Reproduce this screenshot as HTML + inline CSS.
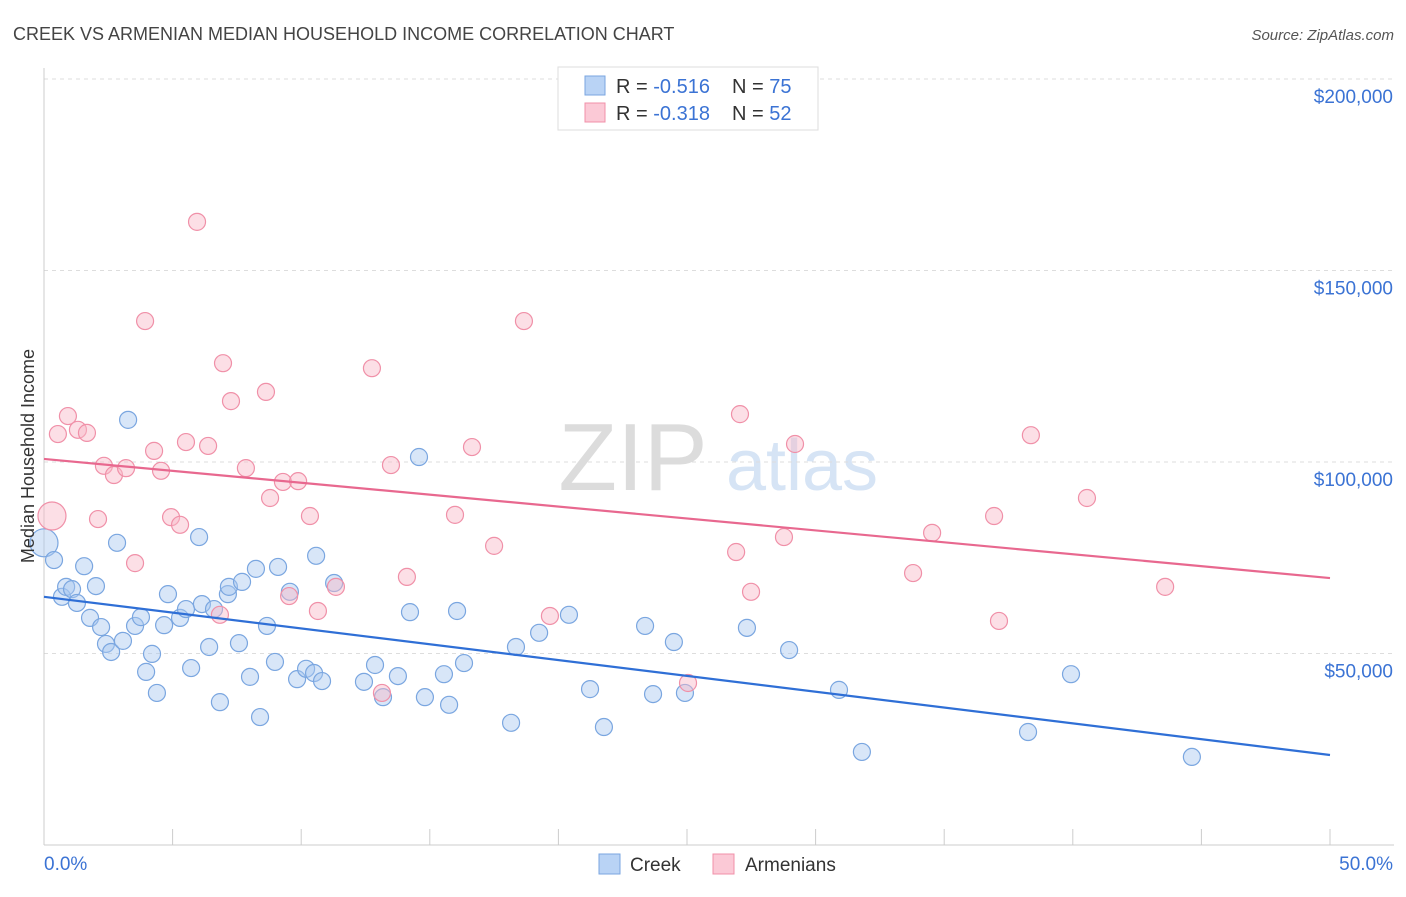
<!DOCTYPE html>
<html><head><meta charset="utf-8"><style>
body{margin:0;background:#fff;font-family:"Liberation Sans",sans-serif;}
svg text{font-family:"Liberation Sans",sans-serif;}
</style></head><body>
<svg width="1406" height="892" viewBox="0 0 1406 892" xmlns="http://www.w3.org/2000/svg" id="svg">
<text x="13" y="40" font-size="18" fill="#444">CREEK VS ARMENIAN MEDIAN HOUSEHOLD INCOME CORRELATION CHART</text>
<text x="1394" y="40" font-size="15" fill="#555" font-style="italic" text-anchor="end">Source: ZipAtlas.com</text>
<g>
<text x="633" y="490" font-size="96" fill="#dcdcdc" font-family="Liberation Serif,serif" text-anchor="middle">ZIP</text>
<text x="802" y="490" font-size="72" fill="#d6e4f5" text-anchor="middle">atlas</text>
</g>
<g id="grid"></g>
<g id="axes"></g>
<g id="marks"></g>
<text transform="translate(34,456) rotate(-90)" font-size="18" fill="#333" text-anchor="middle">Median Household Income</text>
<g>
<rect x="558" y="67" width="260" height="63" fill="#fff" stroke="#ddd"/>
<rect x="585" y="76" width="20" height="19" fill="#b9d3f5" stroke="#7aa6e0"/>
<rect x="585" y="103" width="20" height="19" fill="#fbc9d6" stroke="#f090a8"/>
<text x="616" y="93" font-size="20" fill="#333">R = <tspan fill="#3b73d4">-0.516</tspan></text>
<text x="732" y="93" font-size="20" fill="#333">N = <tspan fill="#3b73d4">75</tspan></text>
<text x="616" y="120" font-size="20" fill="#333">R = <tspan fill="#3b73d4">-0.318</tspan></text>
<text x="732" y="120" font-size="20" fill="#333">N = <tspan fill="#3b73d4">52</tspan></text>
</g>
<g>
<rect x="599" y="854" width="21" height="20" fill="#b9d3f5" stroke="#7aa6e0"/>
<text x="630" y="871" font-size="19" fill="#333">Creek</text>
<rect x="713" y="854" width="21" height="20" fill="#fbc9d6" stroke="#f090a8"/>
<text x="745" y="871" font-size="19" fill="#333">Armenians</text>
</g>
</svg>
<script>
const creekX=[0,0.39,0.70,0.86,1.09,1.28,1.56,1.79,2.02,2.22,2.41,2.61,2.84,3.07,3.27,3.54,3.77,3.97,4.20,4.39,4.67,4.82,5.29,5.52,5.72,6.03,6.14,6.42,6.61,6.84,7.15,7.19,7.58,7.70,8.01,8.24,8.40,8.67,8.98,9.10,9.56,9.84,10.19,10.50,10.58,10.81,11.28,12.44,12.87,13.18,13.76,14.23,14.58,14.81,15.55,15.75,16.06,16.33,18.16,18.35,19.25,20.41,21.23,21.77,23.37,23.68,24.49,24.92,27.33,28.97,30.91,31.80,38.26,39.93,44.63];
const creekY=[78.9,74.4,64.8,67.4,66.8,63.2,72.8,59.3,67.6,56.9,52.5,50.4,78.9,53.3,111,57.2,59.5,45.2,49.9,39.7,57.4,65.5,59.3,61.6,46.2,80.4,62.9,51.7,61.6,37.3,65.5,67.4,52.7,68.7,43.9,72.1,33.4,57.2,47.8,72.6,66.1,43.3,46.0,44.9,75.5,42.8,68.4,42.6,47.0,38.6,44.1,60.8,101.3,38.6,44.6,36.6,61.1,47.5,31.9,51.7,55.4,60.1,40.7,30.8,57.2,39.4,53.0,39.7,56.7,50.9,40.5,24.3,29.5,44.6,23.0];
const armX=[0.31,0.54,0.93,1.32,1.67,2.10,2.33,2.72,3.19,3.54,3.93,4.28,4.55,4.94,5.29,5.52,5.95,6.38,6.84,6.96,7.27,7.85,8.63,8.79,9.29,9.53,9.88,10.34,10.65,11.35,12.75,13.14,13.49,14.11,15.98,16.64,17.50,18.66,19.67,25.04,26.91,27.06,27.49,28.77,29.20,33.79,34.53,36.94,37.13,38.37,40.55,43.59];
const armY=[85.9,107.3,112.0,108.4,107.6,85.1,99.0,96.6,98.4,73.6,136.8,102.9,97.7,85.6,83.6,105.2,162.7,104.2,60.1,125.8,115.9,98.4,118.3,90.6,94.8,65.0,95.0,85.9,61.1,67.4,124.5,39.7,99.2,70.0,86.2,103.9,78.1,136.8,59.8,42.3,76.5,112.5,66.1,80.4,104.7,71.0,81.5,85.9,58.5,107.0,90.6,67.4];
const creekTrend=[64.8,23.5];
const armTrend=[100.8,69.7];
const yTicks=[50,100,150,200];
const yTickLabels=["$50,000","$100,000","$150,000","$200,000"];
const xTickVals=[0,5,10,15,20,25,30,35,40,45,50];
const xLabels=["0.0%","50.0%"];
const NS="http://www.w3.org/2000/svg";
const X=v=>44+v/50*1286;
const Y=v=>845-v/50*191.5;
function mk(p,t,a){const e=document.createElementNS(NS,t);for(const k in a)e.setAttribute(k,a[k]);document.getElementById(p).appendChild(e);return e;}
yTicks.forEach((t,i)=>{
 const l=mk('grid','line',{x1:44,x2:1394,y1:Y(t),y2:Y(t),stroke:'#ddd','stroke-dasharray':'4,4'});
 
 
 const tx=mk('grid','text',{x:1393,y:Y(t)+24,'font-size':19,fill:'#3b73d4','text-anchor':'end'});
 tx.textContent=yTickLabels[i];
 
 
});
const ax=mk('axes','line',{x1:44,x2:1394,y1:845,y2:845,stroke:'#ccc'});


const ay=mk('axes','line',{x1:44,x2:44,y1:68,y2:845,stroke:'#ccc'});


xTickVals.forEach(v=>{
 const t=mk('axes','line',{x1:X(v),x2:X(v),y1:829,y2:845,stroke:'#ccc'});
 
 
});
const xl0=mk('axes','text',{x:44,y:870,'font-size':19,fill:'#3b73d4'});xl0.textContent=xLabels[0];


const xl1=mk('axes','text',{x:1393,y:870,'font-size':19,fill:'#3b73d4','text-anchor':'end'});xl1.textContent=xLabels[1];


function pts(xs,ys,fill,stroke,name){
 xs.forEach((x,i)=>{
  const r=(i===0)?14:8.5;
  const c=mk('marks','circle',{cx:X(x),cy:Y(ys[i]),r:r,fill:fill,'fill-opacity':0.45,stroke:stroke,'stroke-width':1.2});
  
  
 });
}
pts(creekX,creekY,'#a8c8f0','#7aa6e0','creek-point');
pts(armX,armY,'#f8b8c8','#f090a8','armenian-point');
const l1=mk('marks','line',{x1:X(0),y1:Y(creekTrend[0]),x2:X(50),y2:Y(creekTrend[1]),stroke:'#2f6fd6','stroke-width':2.2});


const l2=mk('marks','line',{x1:X(0),y1:Y(armTrend[0]),x2:X(50),y2:Y(armTrend[1]),stroke:'#e8688f','stroke-width':2.2});


</script>
</body></html>
